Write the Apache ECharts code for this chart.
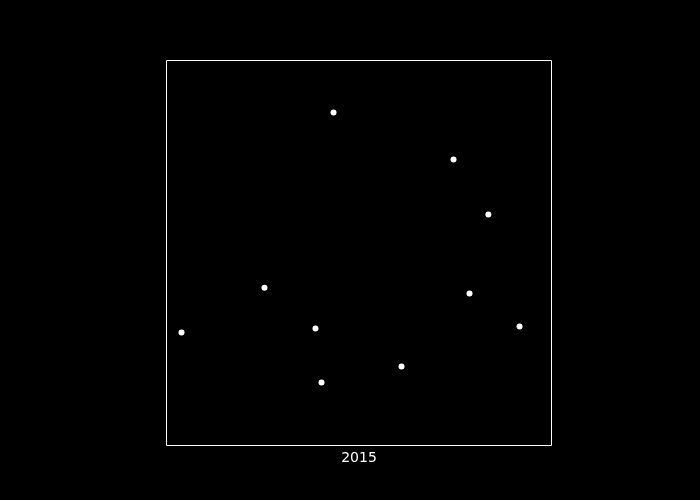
<!DOCTYPE html>
<html><head><meta charset="utf-8">
<script src="https://cdn.jsdelivr.net/npm/echarts@6/dist/echarts.min.js"></script>
<style>html,body{margin:0;padding:0;background:#000;}#c{width:700px;height:500px;}</style>
</head><body><div id="c"></div>
<script>
const xValues = [3.9, 25.45, 38.7, 40.26, 43.38, 61.04, 74.55, 78.7, 83.6, 91.7];
const yValues = [29.35, 41.0, 30.4, 16.36, 86.5, 20.5, 74.3, 39.5, 60.0, 30.9];
const xLabel = '2015';
const chart = echarts.init(document.getElementById('c'));
chart.setOption({
  backgroundColor: '#000',
  animation: false,
  grid: {left: 166.5, top: 60.5, width: 385, height: 385, show: true, borderColor: '#fff', borderWidth: 1, backgroundColor: 'transparent'},
  xAxis: {type: 'value', min: 0, max: 100, name: xLabel, nameLocation: 'middle', nameGap: 6,
    nameTextStyle: {color: '#fff', fontSize: 14, fontFamily: 'DejaVu Sans'},
    axisLine: {show: false}, axisTick: {show: false}, axisLabel: {show: false}, splitLine: {show: false}},
  yAxis: {type: 'value', min: 0, max: 100,
    axisLine: {show: false}, axisTick: {show: false}, axisLabel: {show: false}, splitLine: {show: false}},
  series: [{type: 'scatter', symbolSize: 6, itemStyle: {color: '#fff', opacity: 1},
    data: xValues.map((x, i) => [x, yValues[i]])}]
});
</script></body></html>
